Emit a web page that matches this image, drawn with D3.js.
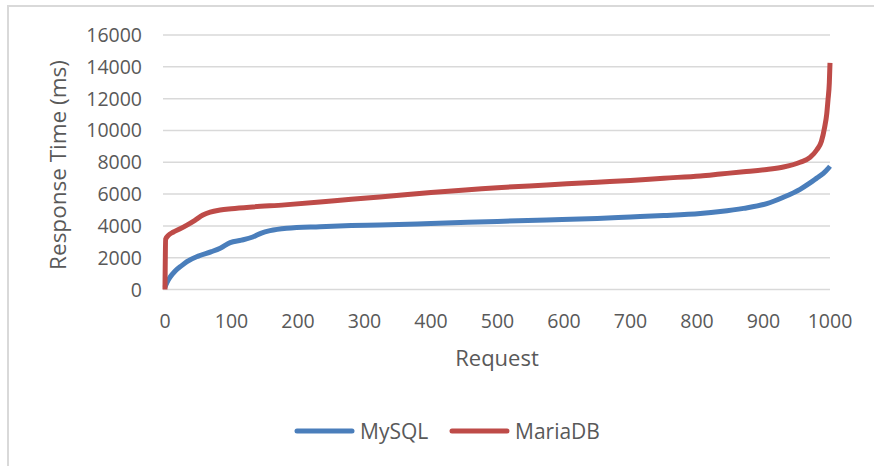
<!DOCTYPE html>
<html>
<head>
<meta charset="utf-8">
<script src="https://cdn.jsdelivr.net/npm/d3@7"></script>
<style>
  body { margin: 0; background: #fff; }
  svg { display: block; font-family: "Open Sans", sans-serif; }
</style>
</head>
<body>
<svg id="chart"></svg>
<script>
const width = 874;
const height = 466;

// sorted response times
const mysqlReq = [0, 3, 8, 15, 25, 33, 50, 70, 83, 98, 115, 132, 145, 158, 183, 233, 280, 323, 400, 500, 574, 650, 700, 750, 805, 835, 870, 905, 930, 955, 970, 980, 990, 997, 1000];
const mysqlMs = [150, 450, 800, 1150, 1500, 1750, 2100, 2380, 2600, 2950, 3100, 3300, 3550, 3700, 3850, 3950, 4020, 4060, 4150, 4280, 4370, 4470, 4560, 4650, 4780, 4900, 5100, 5400, 5800, 6300, 6700, 7000, 7300, 7600, 7750];

const mariaReq = [0, 1, 5, 12, 22, 33, 45, 57, 68, 83, 100, 132, 180, 233, 280, 323, 400, 500, 574, 650, 700, 750, 805, 835, 870, 905, 930, 955, 970, 980, 987, 992, 995, 997, 999, 1000];
const mariaMs = [0, 3170, 3400, 3600, 3800, 4050, 4350, 4680, 4870, 5000, 5080, 5190, 5320, 5500, 5680, 5820, 6100, 6400, 6570, 6750, 6860, 7000, 7140, 7260, 7400, 7550, 7700, 8000, 8300, 8770, 9300, 10220, 11000, 11920, 13000, 14250];

const xTicks = [0, 100, 200, 300, 400, 500, 600, 700, 800, 900, 1000];
const yTicks = [0, 2000, 4000, 6000, 8000, 10000, 12000, 14000, 16000];

const series = [
    { name: "MySQL", color: "#4A7EBB", req: mysqlReq, ms: mysqlMs },
    { name: "MariaDB", color: "#BE4B48", req: mariaReq, ms: mariaMs }
];

const svg = d3.select("#chart")
    .attr("width", width)
    .attr("height", height);

// chart border (cut off at right and bottom)
svg.append("path")
    .attr("d", `M8,${height} L8,6 L${width},6`)
    .attr("fill", "none")
    .attr("stroke", "#d9d9d9")
    .attr("stroke-width", 2);

const x = d3.scaleLinear().domain([0, 1000]).range([165, 830]);
const y = d3.scaleLinear().domain([0, 16000]).range([289.5, 35]);

svg.append("g")
    .selectAll("line")
    .data(yTicks)
    .join("line")
    .attr("x1", 163)
    .attr("x2", 830)
    .attr("y1", d => y(d))
    .attr("y2", d => y(d))
    .attr("stroke", "#d9d9d9")
    .attr("stroke-width", 1.5);

svg.append("g")
    .selectAll("text")
    .data(yTicks)
    .join("text")
    .attr("x", 142)
    .attr("y", d => y(d) + 7)
    .attr("text-anchor", "end")
    .attr("font-size", 19.5)
    .attr("fill", "#595959")
    .text(d => d);

svg.append("g")
    .selectAll("text")
    .data(xTicks)
    .join("text")
    .attr("x", d => x(d))
    .attr("y", 328)
    .attr("text-anchor", "middle")
    .attr("font-size", 19.5)
    .attr("fill", "#595959")
    .text(d => d);

const line = d3.line()
    .x(d => x(d[0]))
    .y(d => y(d[1]))
    .curve(d3.curveMonotoneX);

svg.append("g")
    .selectAll("path")
    .data(series)
    .join("path")
    .attr("d", s => line(d3.zip(s.req, s.ms)))
    .attr("fill", "none")
    .attr("stroke", s => s.color)
    .attr("stroke-width", 5)
    .attr("stroke-linejoin", "round");

svg.append("text")
    .attr("transform", "translate(66,165) rotate(-90)")
    .attr("text-anchor", "middle")
    .attr("font-size", 22.5)
    .attr("fill", "#595959")
    .text("Response Time (ms)");

svg.append("text")
    .attr("x", 497)
    .attr("y", 366)
    .attr("text-anchor", "middle")
    .attr("font-size", 22)
    .attr("fill", "#595959")
    .text("Request");

// legend
const legendX = [297, 452];
const legend = svg.append("g")
    .selectAll("g")
    .data(series)
    .join("g")
    .attr("transform", (d, i) => `translate(${legendX[i]},431)`);

legend.append("line")
    .attr("x1", 0)
    .attr("x2", 55)
    .attr("stroke", d => d.color)
    .attr("stroke-width", 5)
    .attr("stroke-linecap", "round");

legend.append("text")
    .attr("x", 63)
    .attr("y", 7.5)
    .attr("font-size", 21)
    .attr("fill", "#595959")
    .text(d => d.name);
</script>
</body>
</html>
